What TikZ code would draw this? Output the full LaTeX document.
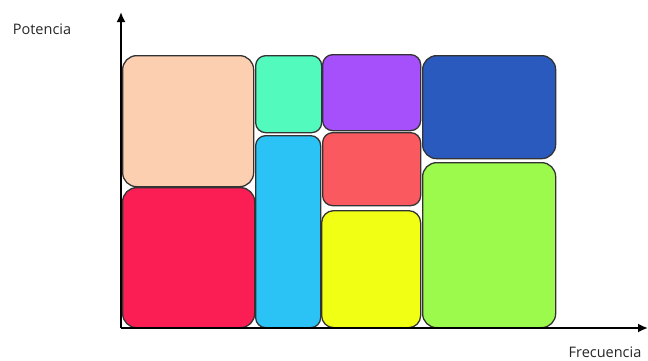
\documentclass[tikz,border=0pt]{standalone}
\usepackage{fontspec}
\setmainfont{Open Sans}
\usetikzlibrary{arrows.meta}
\definecolor{cpeach}{RGB}{253,207,177}
\definecolor{cteal}{RGB}{82,250,190}
\definecolor{cpurple}{RGB}{165,80,250}
\definecolor{cnavy}{RGB}{42,90,190}
\definecolor{ccrimson}{RGB}{250,30,85}
\definecolor{ccyan}{RGB}{43,195,245}
\definecolor{cred}{RGB}{250,90,95}
\definecolor{cyellow}{RGB}{240,255,20}
\definecolor{cgreen}{RGB}{155,250,75}
\tikzset{
  blk/.style={draw=black!80, line width=1.3pt, rounded corners=#1, inner sep=0pt, anchor=north west},
  blk/.default=14pt,
  axis/.style={line width=1.8pt, -{Latex[length=10pt,width=9pt]}},
  lbl/.style={font=\fontsize{14.5}{16}\selectfont, text=black!85, inner sep=0pt}
}
\begin{document}
\begin{tikzpicture}[x=1pt,y=-1pt]
\useasboundingbox (0,0) rectangle (648,360);
% boxes
\node[blk, fill=cpeach, minimum width=131pt, minimum height=131pt] (peach) at (122,55) {};
\node[blk, fill=ccrimson, minimum width=132pt, minimum height=140pt] (crimson) at (122,187) {};
\node[blk=10pt, fill=cteal, minimum width=66pt, minimum height=77pt] (teal) at (255,55) {};
\node[blk=10pt, fill=ccyan, minimum width=65pt, minimum height=192pt] (cyan) at (255,135) {};
\node[blk=10pt, fill=cpurple, minimum width=98pt, minimum height=76pt] (purple) at (322,54) {};
\node[blk=10pt, fill=cred, minimum width=98pt, minimum height=73pt] (red) at (322,132) {};
\node[blk=12pt, fill=cyellow, minimum width=99pt, minimum height=117pt] (yellow) at (321,210) {};
\node[blk, fill=cnavy, minimum width=133pt, minimum height=103pt] (navy) at (422,55) {};
\node[blk, fill=cgreen, minimum width=133pt, minimum height=165pt] (green) at (422,162) {};
% axes
\coordinate (O) at (121,328);
\coordinate (ytip) at (121,12);
\coordinate (xtip) at (648,328);
\draw[axis] (O) -- (ytip);
\draw[axis] (O) -- (xtip);
% labels
\node[lbl] (ylab) at (42,29) {Potencia};
\node[lbl] (xlab) at (605,352) {Frecuencia};
\end{tikzpicture}
\end{document}
